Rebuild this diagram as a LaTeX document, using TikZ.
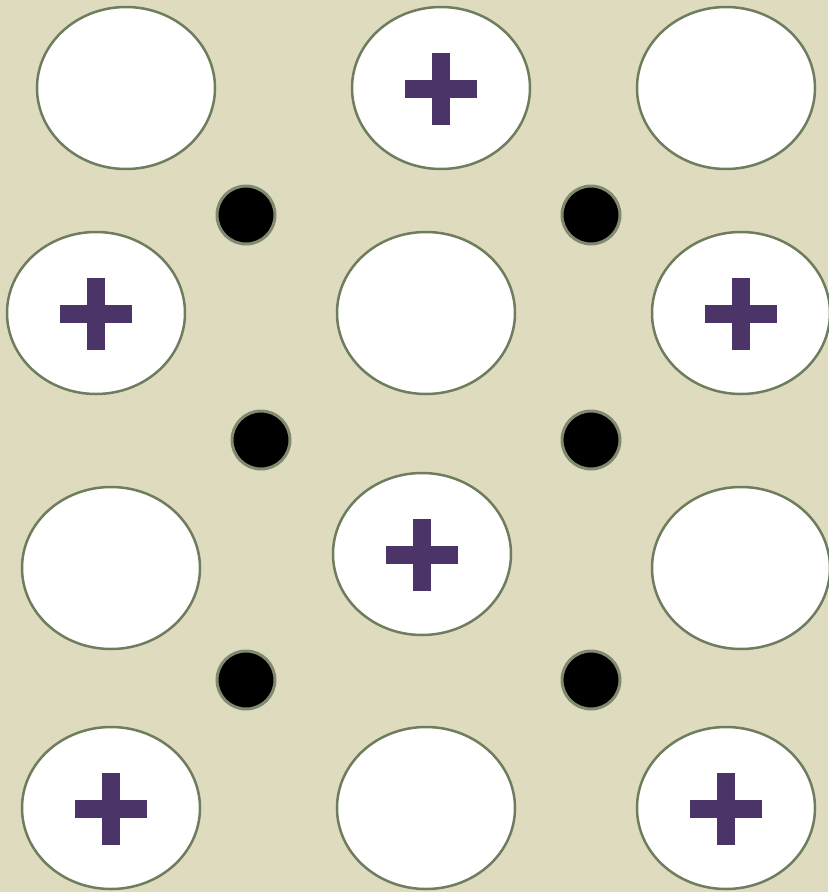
\documentclass[tikz,border=0pt]{standalone}
\usetikzlibrary{shapes.geometric}
\definecolor{bg}{HTML}{DEDBBF}
\definecolor{rim}{HTML}{6E7D5E}
\definecolor{dotrim}{HTML}{7F8A6E}
\definecolor{plus}{HTML}{4B3468}
\begin{document}
\begin{tikzpicture}[x=1pt,y=-1pt,
  ion/.style={ellipse,draw=rim,line width=2.5pt,fill=white,minimum width=178pt,minimum height=162pt,inner sep=0pt},
  electron/.style={circle,draw=dotrim,line width=3pt,fill=black,minimum size=58pt,inner sep=0pt},
  plussign/.style={fill=plus}]
\useasboundingbox[fill=bg] (0,0) rectangle (828,892);
\newcommand{\plusat}[1]{\fill[plussign] ([xshift=-36pt,yshift=-10pt]#1.center) rectangle ([xshift=36pt,yshift=8pt]#1.center);
  \fill[plussign] ([xshift=-9pt,yshift=-37pt]#1.center) rectangle ([xshift=9pt,yshift=35pt]#1.center);}
% row 1
\node[ion] (a1) at (126,88) {};
\node[ion] (a2) at (441,88) {};
\node[ion] (a3) at (726,88) {};
% row 2
\node[ion] (b1) at (96,313) {};
\node[ion] (b2) at (426,313) {};
\node[ion] (b3) at (741,313) {};
% row 3
\node[ion] (c1) at (111,568) {};
\node[ion] (c2) at (422,554) {};
\node[ion] (c3) at (741,568) {};
% row 4
\node[ion] (d1) at (111,808) {};
\node[ion] (d2) at (426,808) {};
\node[ion] (d3) at (726,808) {};
% plus signs
\plusat{a2}
\plusat{b1}
\plusat{b3}
\plusat{c2}
\plusat{d1}
\plusat{d3}
% electrons
\node[electron] (e1) at (246,215) {};
\node[electron] (e2) at (591,215) {};
\node[electron] (e3) at (261,440) {};
\node[electron] (e4) at (591,440) {};
\node[electron] (e5) at (246,680) {};
\node[electron] (e6) at (591,680) {};
\end{tikzpicture}
\end{document}
